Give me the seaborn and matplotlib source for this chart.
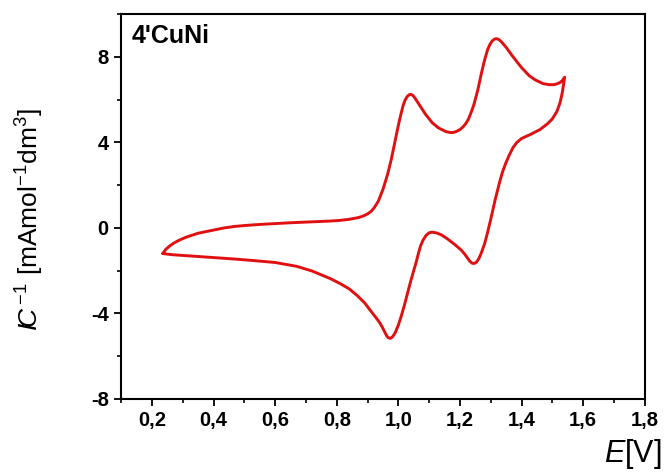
import matplotlib
matplotlib.use("Agg")
import matplotlib.pyplot as plt
import seaborn as sns
import pandas as pd
from matplotlib.ticker import MultipleLocator, FuncFormatter

# Forward (anodic) scan
E_fwd = [0.235, 0.245, 0.258, 0.27, 0.285, 0.3, 0.314, 0.335, 0.35, 0.37, 0.4, 0.435, 0.47, 0.51,
         0.55, 0.6, 0.65, 0.7, 0.75, 0.78, 0.81, 0.84, 0.87,
         0.885, 0.9, 0.912, 0.922, 0.935, 0.95, 0.965, 0.977, 0.99, 1.0, 1.008, 1.016, 1.022,
         1.028, 1.034, 1.04, 1.047, 1.055, 1.07, 1.088,
         1.11, 1.13, 1.155, 1.17, 1.18, 1.19, 1.2, 1.21, 1.22, 1.228, 1.235, 1.245, 1.258, 1.27,
         1.28, 1.29, 1.298, 1.305, 1.313, 1.32,
         1.328, 1.335, 1.35, 1.37, 1.40, 1.425, 1.445, 1.47, 1.49, 1.505, 1.515, 1.525, 1.533, 1.54]
I_fwd = [-1.2, -1.0, -0.84, -0.72, -0.6, -0.5, -0.42, -0.32, -0.25, -0.19, -0.1, 0.0, 0.07, 0.12,
         0.16, 0.2, 0.24, 0.27, 0.3, 0.32, 0.35, 0.4, 0.48,
         0.55, 0.65, 0.78, 0.95, 1.25, 1.8, 2.5, 3.2, 4.1, 4.8, 5.3, 5.75, 5.98,
         6.13, 6.22, 6.25, 6.2, 6.05, 5.72, 5.32,
         4.92, 4.68, 4.5, 4.46, 4.47, 4.52, 4.6, 4.72, 4.9, 5.1, 5.35, 5.75, 6.45, 7.25,
         7.85, 8.35, 8.6, 8.75, 8.84, 8.85,
         8.8, 8.7, 8.45, 8.05, 7.5, 7.12, 6.92, 6.75, 6.7, 6.7, 6.74, 6.8, 6.9, 7.05]

# Reverse (cathodic) scan
E_rev = [1.54, 1.537, 1.532, 1.525, 1.515, 1.5, 1.485, 1.46, 1.43, 1.40, 1.385, 1.372, 1.36,
         1.348, 1.338, 1.33, 1.322, 1.315,
         1.308, 1.30, 1.29, 1.28, 1.27, 1.262, 1.255, 1.248, 1.24, 1.232, 1.225, 1.215, 1.205,
         1.185, 1.16, 1.14, 1.125, 1.11, 1.10,
         1.09, 1.08, 1.072, 1.065, 1.058, 1.05, 1.04, 1.03, 1.02, 1.01, 1.0, 0.99, 0.982, 0.975,
         0.968, 0.962, 0.955, 0.948, 0.94, 0.93, 0.91,
         0.89, 0.865, 0.84, 0.81, 0.78, 0.75, 0.72, 0.67, 0.6, 0.53, 0.47, 0.42, 0.35, 0.314, 0.27,
         0.25, 0.235]
I_rev = [7.05, 6.75, 6.3, 5.85, 5.45, 5.1, 4.88, 4.6, 4.38, 4.18, 4.0, 3.75, 3.4,
         3.0, 2.6, 2.2, 1.75, 1.35,
         0.9, 0.4, -0.2, -0.75, -1.15, -1.42, -1.58, -1.66, -1.66, -1.56, -1.42, -1.22, -1.05,
         -0.8, -0.52, -0.33, -0.24, -0.2, -0.23,
         -0.35, -0.58, -0.85, -1.2, -1.6, -2.0, -2.5, -3.05, -3.6, -4.1, -4.55, -4.9, -5.08, -5.17,
         -5.15, -5.05, -4.85, -4.65, -4.45, -4.25, -3.88,
         -3.5, -3.15, -2.85, -2.6, -2.38, -2.2, -2.02, -1.8, -1.62, -1.53, -1.46, -1.41, -1.34, -1.3, -1.26,
         -1.23, -1.2]

x_ticks = [0.2, 0.4, 0.6, 0.8, 1.0, 1.2, 1.4, 1.6, 1.8]
y_ticks = [-8, -4, 0, 4, 8]

df = pd.DataFrame({"E": E_fwd + E_rev, "I": I_fwd + I_rev})

sns.set_theme(style="ticks")
plt.rcParams["font.family"] = ["Liberation Sans", "DejaVu Sans"]
plt.rcParams["text.color"] = "black"
plt.rcParams["axes.labelcolor"] = "black"
plt.rcParams["mathtext.fontset"] = "custom"
plt.rcParams["mathtext.rm"] = "Liberation Sans"
plt.rcParams["mathtext.it"] = "Liberation Sans:italic"

fig = plt.figure(figsize=(6.66, 4.72), dpi=100)
ax = fig.add_axes([0.182, 0.155, 0.786, 0.815])

sns.lineplot(data=df, x="E", y="I", sort=False, estimator=None, color="#e01010",
             linewidth=2.1, ax=ax)
for ln in ax.lines:
    ln.set_solid_joinstyle("round")
    ln.set_solid_capstyle("round")

ax.set_xlim(0.1, 1.8)
ax.set_ylim(-8, 10)
ax.set_xticks(x_ticks)
ax.set_yticks(y_ticks)
ax.xaxis.set_minor_locator(MultipleLocator(0.1))
ax.yaxis.set_minor_locator(MultipleLocator(2))
ax.xaxis.set_major_formatter(FuncFormatter(lambda v, p: f"{v:.1f}".replace(".", ",")))
ax.yaxis.set_major_formatter(FuncFormatter(lambda v, p: f"{int(round(v))}"))
ax.tick_params(which="major", direction="out", length=5, width=1.3, labelsize=14.5,
               colors="black", pad=4)
ax.tick_params(which="minor", direction="out", length=3, width=1.2, colors="black")
for lab in ax.get_xticklabels() + ax.get_yticklabels():
    lab.set_fontweight("bold")
for sp in ax.spines.values():
    sp.set_linewidth(1.5)
    sp.set_color("black")

ax.set_xlabel("")
ax.set_ylabel("")
ax.text(0.02, 0.975, "4'CuNi", transform=ax.transAxes, ha="left", va="top",
        fontsize=18, fontweight="bold", color="black")

fig.text(0.045, 0.535, r"$I\!C^{\,\mathit{-1}}$ [mAmol$^{\mathregular{-1}}$dm$^{\mathregular{3}}$]",
         rotation=90, ha="center", va="center", fontsize=19, color="black")
fig.text(0.993, 0.003, r"$E$[V]", ha="right", va="bottom", fontsize=22, color="black")

fig.savefig("out.png", dpi=100)
